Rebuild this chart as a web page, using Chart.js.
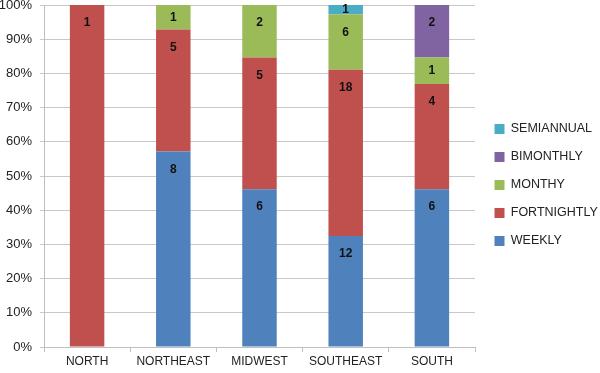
<!DOCTYPE html>
<html>
<head>
<meta charset="utf-8">
<script src="https://cdn.jsdelivr.net/npm/chart.js@4.4.1/dist/chart.umd.min.js"></script>
<style>
  html, body { margin: 0; padding: 0; background: #fff; }
  #wrap { width: 600px; height: 373px; }
</style>
</head>
<body>
<div id="wrap"><canvas id="myChart"></canvas></div>
<script>
// counts per region, shown as share of the region total
const regions = ['NORTH', 'NORTHEAST', 'MIDWEST', 'SOUTHEAST', 'SOUTH'];
const weekly = [0, 8, 6, 12, 6];
const fortnightly = [1, 5, 5, 18, 4];
const monthy = [0, 1, 2, 6, 1];
const bimonthly = [0, 0, 0, 0, 2];
const semiannual = [0, 0, 0, 1, 0];

const totals = regions.map((_, i) =>
  weekly[i] + fortnightly[i] + monthy[i] + bimonthly[i] + semiannual[i]);
const pct = arr => arr.map((v, i) => v / totals[i] * 100);

const series = [
  { label: 'WEEKLY', counts: weekly, color: '#4f81bd' },
  { label: 'FORTNIGHTLY', counts: fortnightly, color: '#c0504d' },
  { label: 'MONTHY', counts: monthy, color: '#9bbb59' },
  { label: 'BIMONTHLY', counts: bimonthly, color: '#8064a2' },
  { label: 'SEMIANNUAL', counts: semiannual, color: '#4bacc6' }
];

const data = {
  labels: regions,
  datasets: series.map(s => ({
    label: s.label,
    data: pct(s.counts),
    counts: s.counts,
    backgroundColor: s.color,
    borderWidth: 0,
    categoryPercentage: 1,
    barPercentage: 0.4
  }))
};

// count labels near the top of each segment
const countLabels = {
  id: 'countLabels',
  afterDatasetsDraw(chart) {
    const ctx = chart.ctx;
    ctx.save();
    ctx.font = 'bold 12px "Liberation Sans", Arial, sans-serif';
    ctx.fillStyle = '#111';
    ctx.textAlign = 'center';
    ctx.textBaseline = 'middle';
    chart.data.datasets.forEach((ds, di) => {
      chart.getDatasetMeta(di).data.forEach((bar, i) => {
        const n = ds.counts[i];
        if (!n) return;
        const h = bar.base - bar.y;
        const y = h < 36 ? bar.y + h / 2 : bar.y + 18;
        ctx.fillText(String(n), bar.x, y);
      });
    });
    ctx.restore();
  }
};

// fixed legend width so the plot ends where the reference does
const legendWidth = {
  id: 'legendWidth',
  beforeUpdate(chart) {
    const lg = chart.legend;
    if (lg && !lg._patched) {
      const orig = lg.fit;
      lg.fit = function () { orig.call(this); this.width = 125; };
      lg._patched = true;
    }
  },
  afterLayout(chart) {
    const lg = chart.legend;
    if (lg) { lg.left += 4; lg.right += 4; lg.top -= 4; lg.bottom -= 4; }
  }
};

const config = {
  type: 'bar',
  data,
  options: {
    responsive: true,
    maintainAspectRatio: false,
    animation: false,
    layout: { padding: { top: 5, right: 0, left: 0, bottom: 0 } },
    scales: {
      x: {
        stacked: true,
        afterFit(scale) { scale.height = 26; },
        grid: {
          display: true,
          offset: true,
          drawOnChartArea: false,
          color: '#bfbfbf',
          tickLength: 5
        },
        border: { color: '#bfbfbf' },
        ticks: {
          color: '#222',
          font: { family: '"Liberation Sans", Arial, sans-serif', size: 12 },
          padding: 2,
          maxRotation: 0
        }
      },
      y: {
        stacked: true,
        min: 0,
        max: 100,
        afterFit(scale) { scale.width = 44; scale.paddingTop = 0; scale.paddingBottom = 0; },
        grid: { color: '#c8c8c8', tickLength: 4 },
        border: { color: '#bfbfbf' },
        ticks: {
          stepSize: 10,
          color: '#222',
          padding: 8,
          font: { family: '"Liberation Sans", Arial, sans-serif', size: 13 },
          callback: v => v + '%'
        }
      }
    },
    plugins: {
      legend: {
        position: 'right',
        reverse: true,
        labels: {
          boxWidth: 10,
          boxHeight: 10,
          padding: 15.5,
          color: '#222',
          font: { family: '"Liberation Sans", Arial, sans-serif', size: 12.5 }
        }
      },
      tooltip: { enabled: false }
    }
  },
  plugins: [countLabels, legendWidth]
};

new Chart(document.getElementById('myChart'), config);
</script>
</body>
</html>
